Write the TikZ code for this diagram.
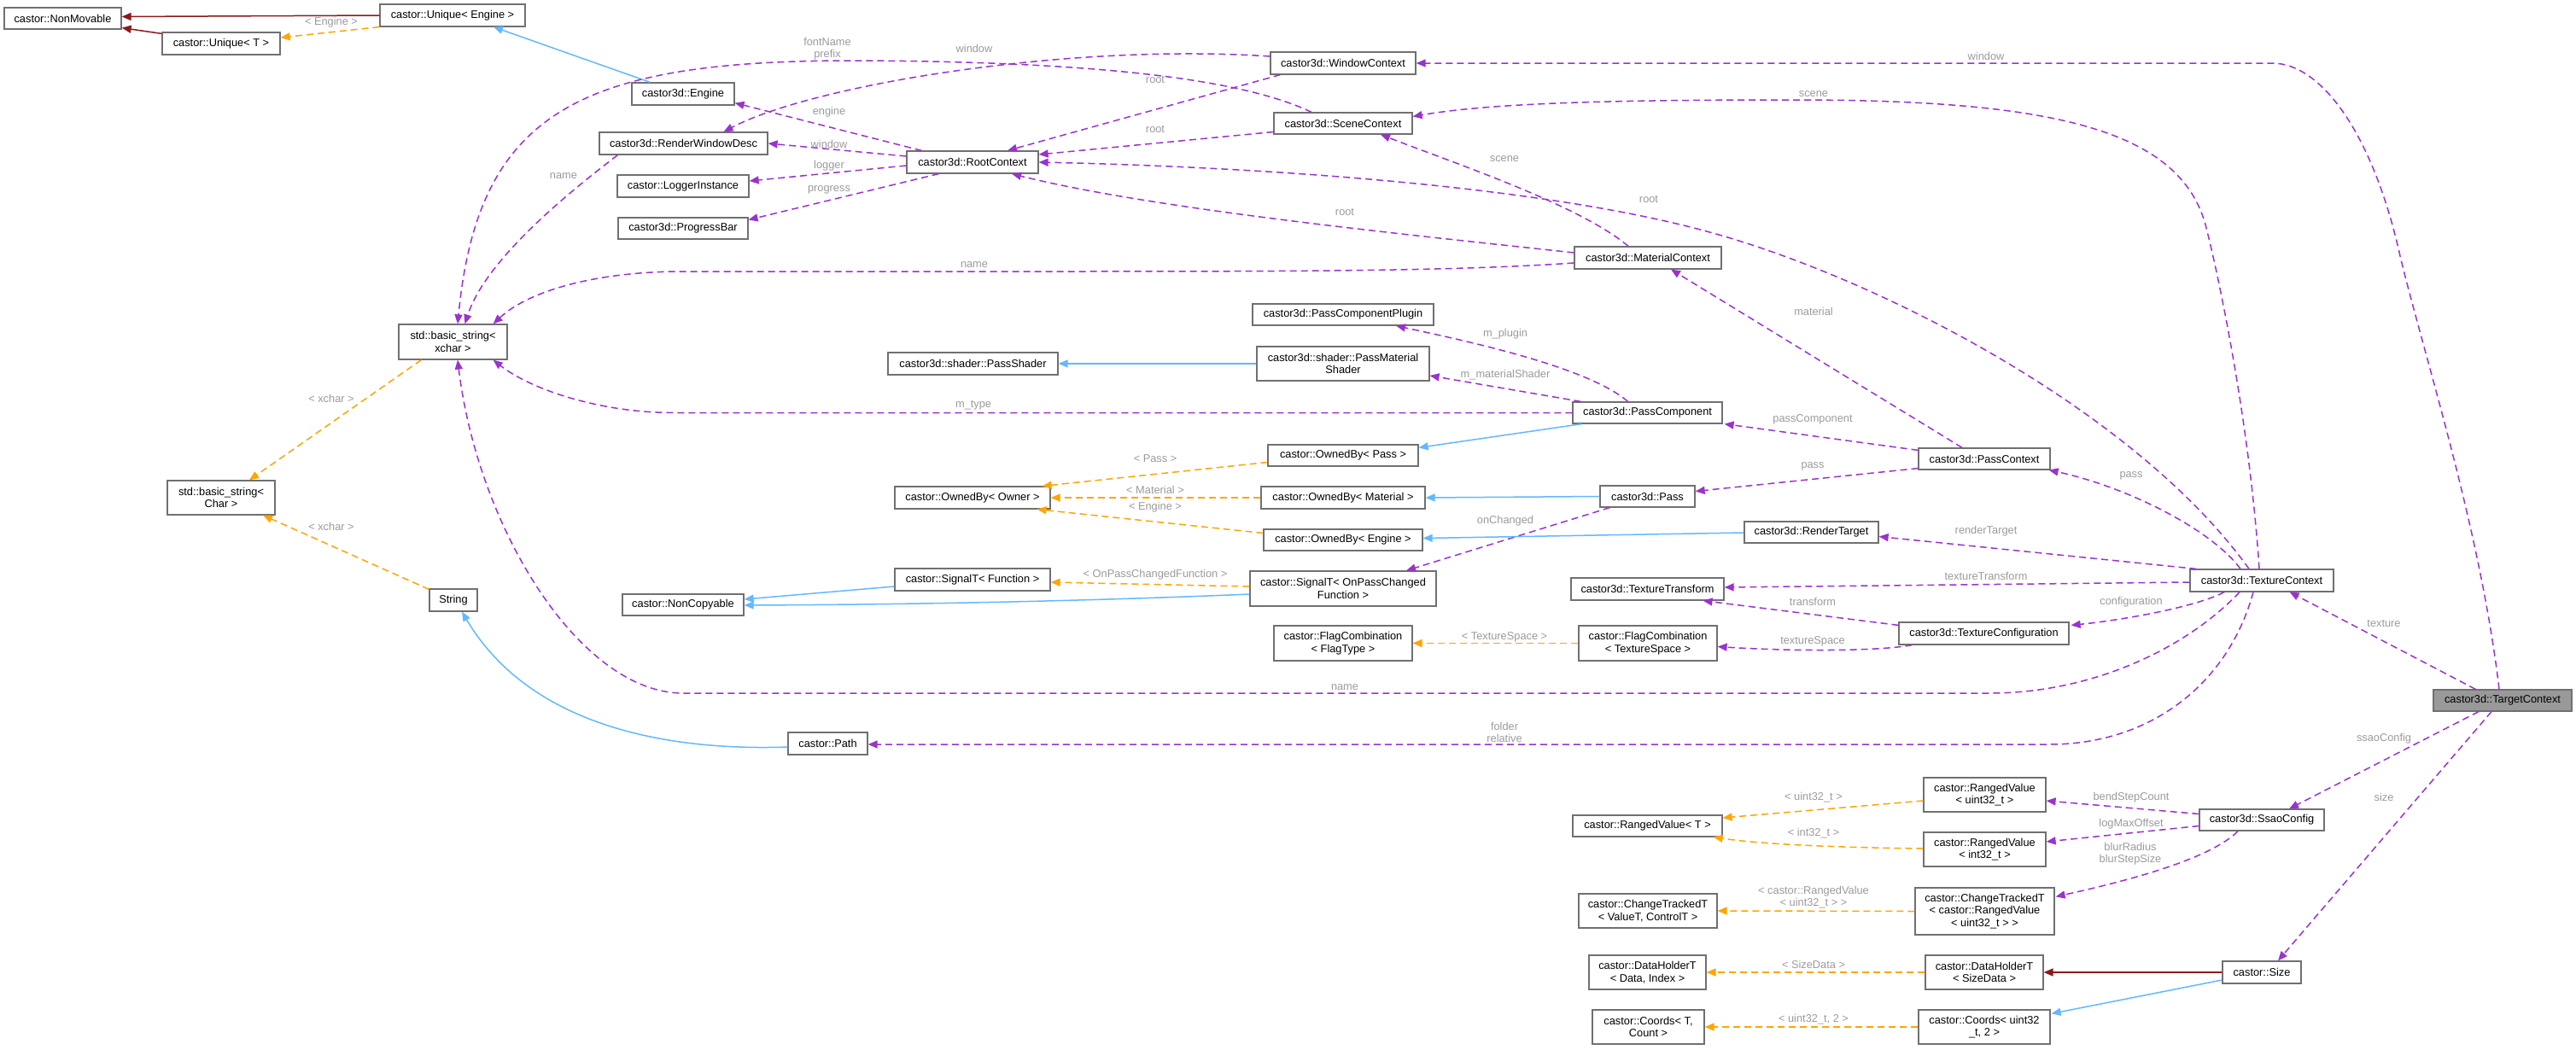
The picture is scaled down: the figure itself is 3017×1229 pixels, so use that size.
\documentclass[tikz,border=0pt]{standalone}
\usepackage{fontspec}
\setmainfont{Liberation Sans}
\usetikzlibrary{arrows.meta,calc}
\definecolor{cpurple}{HTML}{9A32CD}
\definecolor{corange}{HTML}{FFA500}
\definecolor{cblue}{HTML}{63B8FF}
\definecolor{cred}{HTML}{8B1A1A}
\definecolor{clabel}{HTML}{9A9A9A}
\definecolor{cborder}{HTML}{707070}
\definecolor{ctarget}{HTML}{999999}
\newcommand{\nfont}{\fontsize{12.8}{14.5}\selectfont}
\begin{document}
\begin{tikzpicture}[x=1pt,y=-1pt,
  clsbox/.style={draw=cborder, fill=white, line width=1.2pt, inner sep=0pt, align=center, font=\nfont},
  lbl/.style={text=clabel, inner sep=0pt, align=center, font=\nfont},
  arrowhd/.style={-{Triangle[length=11pt,width=9pt]}},
  usee/.style={draw=cpurple, line width=1.5pt, dash pattern=on 8pt off 5pt, arrowhd},
  tmpl/.style={draw=corange, line width=1.5pt, dash pattern=on 8pt off 5pt, arrowhd},
  inh/.style={draw=cblue, line width=1.5pt, arrowhd},
  priv/.style={draw=cred, line width=1.5pt, arrowhd},
]
\useasboundingbox (0,0) rectangle (3017,1229);

% ---- nodes ----
\node[clsbox, minimum width=137pt, minimum height=25pt] (nonmovable) at (73.5,21.5) {castor::NonMovable};
\node[clsbox, minimum width=138pt, minimum height=26pt] (uniqueT) at (259,51) {castor::Unique< T >};
\node[clsbox, minimum width=170pt, minimum height=26pt] (uniqueEngine) at (530,18) {castor::Unique< Engine >};
\node[clsbox, minimum width=120pt, minimum height=26pt] (engine) at (800,110) {castor3d::Engine};
\node[clsbox, minimum width=197pt, minimum height=26pt] (rwd) at (800.5,168) {castor3d::RenderWindowDesc};
\node[clsbox, minimum width=154pt, minimum height=26pt] (logger) at (800,218) {castor::LoggerInstance};
\node[clsbox, minimum width=152pt, minimum height=25pt] (progress) at (800,267.5) {castor3d::ProgressBar};
\node[clsbox, minimum width=127pt, minimum height=41pt] (bsxchar) at (530.5,400.5) {std::basic\_string<\\xchar >};
\node[clsbox, minimum width=126pt, minimum height=40pt] (bsChar) at (259,583) {std::basic\_string<\\Char >};
\node[clsbox, minimum width=56pt, minimum height=26pt] (strnode) at (531,703) {String};
\node[clsbox, minimum width=142pt, minimum height=25pt] (noncopyable) at (800,708.5) {castor::NonCopyable};
\node[clsbox, minimum width=93pt, minimum height=26pt] (castorpath) at (969.5,871) {castor::Path};
\node[clsbox, minimum width=154pt, minimum height=26pt] (rootctx) at (1139,190) {castor3d::RootContext};
\node[clsbox, minimum width=199pt, minimum height=26pt] (passshader) at (1139.5,426) {castor3d::shader::PassShader};
\node[clsbox, minimum width=182pt, minimum height=26pt] (ownedOwner) at (1139,583) {castor::OwnedBy< Owner >};
\node[clsbox, minimum width=182pt, minimum height=26pt] (signalFunc) at (1139,679) {castor::SignalT< Function >};
\node[clsbox, minimum width=170pt, minimum height=26pt] (windowctx) at (1573,74) {castor3d::WindowContext};
\node[clsbox, minimum width=162pt, minimum height=25pt] (scenectx) at (1573,144.5) {castor3d::SceneContext};
\node[clsbox, minimum width=212pt, minimum height=25pt] (pcplugin) at (1573,368.5) {castor3d::PassComponentPlugin};
\node[clsbox, minimum width=202pt, minimum height=40pt] (pmshader) at (1573,426) {castor3d::shader::PassMaterial\\Shader};
\node[clsbox, minimum width=176pt, minimum height=25pt] (ownedPass) at (1573,533.5) {castor::OwnedBy< Pass >};
\node[clsbox, minimum width=192pt, minimum height=26pt] (ownedMaterial) at (1573,583) {castor::OwnedBy< Material >};
\node[clsbox, minimum width=186pt, minimum height=25pt] (ownedEngine) at (1573,632.5) {castor::OwnedBy< Engine >};
\node[clsbox, minimum width=218pt, minimum height=41pt] (signalOPC) at (1573,689.5) {castor::SignalT< OnPassChanged\\Function >};
\node[clsbox, minimum width=162pt, minimum height=41pt] (flagType) at (1573,753.5) {castor::FlagCombination\\< FlagType >};
\node[clsbox, minimum width=172pt, minimum height=26pt] (materialctx) at (1930,302) {castor3d::MaterialContext};
\node[clsbox, minimum width=175pt, minimum height=25pt] (passcomp) at (1929.5,483.5) {castor3d::PassComponent};
\node[clsbox, minimum width=111pt, minimum height=25pt] (passnode) at (1929.5,581.5) {castor3d::Pass};
\node[clsbox, minimum width=179pt, minimum height=26pt] (textransform) at (1929.5,690) {castor3d::TextureTransform};
\node[clsbox, minimum width=162pt, minimum height=41pt] (flagTS) at (1930,753.5) {castor::FlagCombination\\< TextureSpace >};
\node[clsbox, minimum width=175pt, minimum height=25pt] (rangedT) at (1929.5,967.5) {castor::RangedValue< T >};
\node[clsbox, minimum width=162pt, minimum height=40pt] (ctValueT) at (1930,1067) {castor::ChangeTrackedT\\< ValueT, ControlT >};
\node[clsbox, minimum width=137pt, minimum height=40pt] (dhData) at (1929.5,1139) {castor::DataHolderT\\< Data, Index >};
\node[clsbox, minimum width=131pt, minimum height=40pt] (coordsT) at (1930.5,1203) {castor::Coords< T,\\Count >};
\node[clsbox, minimum width=157pt, minimum height=25pt] (rendertarget) at (2121.5,623.5) {castor3d::RenderTarget};
\node[clsbox, minimum width=154pt, minimum height=25pt] (passctx) at (2324,537.5) {castor3d::PassContext};
\node[clsbox, minimum width=199pt, minimum height=26pt] (texconf) at (2323.5,742) {castor3d::TextureConfiguration};
\node[clsbox, minimum width=143pt, minimum height=40pt] (rvU) at (2324.5,931) {castor::RangedValue\\< uint32\_t >};
\node[clsbox, minimum width=143pt, minimum height=40pt] (rvI) at (2324.5,995) {castor::RangedValue\\< int32\_t >};
\node[clsbox, minimum width=163pt, minimum height=55pt] (ctRV) at (2324.5,1067.5) {castor::ChangeTrackedT\\< castor::RangedValue\\< uint32\_t > >};
\node[clsbox, minimum width=138pt, minimum height=40pt] (dhSize) at (2324,1139) {castor::DataHolderT\\< SizeData >};
\node[clsbox, minimum width=154pt, minimum height=40pt] (coordsU) at (2324,1203) {castor::Coords< uint32\\\_t, 2 >};
\node[clsbox, minimum width=168pt, minimum height=26pt] (texturectx) at (2649,680) {castor3d::TextureContext};
\node[clsbox, minimum width=146pt, minimum height=25pt] (ssao) at (2649,960.5) {castor3d::SsaoConfig};
\node[clsbox, minimum width=92pt, minimum height=26pt] (sizenode) at (2649,1139) {castor::Size};
\node[clsbox, fill=ctarget, minimum width=162pt, minimum height=25pt] (targetctx) at (2931,820.5) {castor3d::TargetContext};

% ---- edges ----
\draw[priv] (uniqueEngine.west) -- ($(nonmovable.east)+(0,-2)$);
\draw[priv] ($(uniqueT.north west)+(0,2)$) -- ($(nonmovable.south east)+(0,-2)$);
\draw[tmpl] (uniqueEngine.south west) -- ($(uniqueT.east)+(0,-7)$);
\draw[inh] ($(engine.north west)+(22,0)$) -- ($(uniqueEngine.south)+(48,0)$);
\draw[usee] ($(rootctx.north west)+(18,0)$) -- ($(engine.south east)+(0,-3)$);
\draw[usee] ($(rootctx.west)+(0,-7)$) -- (rwd.east);
\draw[usee] ($(rootctx.west)+(0,4)$) -- ($(logger.east)+(0,-6)$);
\draw[usee] ($(rootctx.south west)+(38,0)$) -- ($(progress.east)+(0,-10)$);
\draw[usee] ($(windowctx.west)+(0,-8)$) .. controls (1250,50) and (950,100) .. ($(rwd.north)+(47,0)$);
\draw[usee] ($(windowctx.south west)+(12,0)$) -- ($(rootctx.north)+(41,0)$);
\draw[usee] ($(scenectx.west)+(0,10)$) -- ($(rootctx.east)+(0,-9)$);
\draw[usee] ($(scenectx.north)+(-37,0)$) .. controls (1460,95) and (1300,72) .. (1000,71) .. controls (680,71) and (560,130) .. ($(bsxchar.north)+(5.5,0)$);
\draw[usee] ($(rwd.south west)+(22,0)$) .. controls (680,215) and (570,300) .. ($(bsxchar.north)+(14,0)$);
\draw[usee] ($(materialctx.west)+(0,-6)$) .. controls (1650,275) and (1350,245) .. ($(rootctx.south)+(46,0)$);
\draw[usee] ($(materialctx.north)+(-23,0)$) .. controls (1850,240) and (1700,190) .. ($(scenectx.south)+(44,0)$);
\draw[usee] ($(materialctx.west)+(0,6)$) .. controls (1700,318) and (1500,318) .. (1200,318) -- (800,318) .. controls (700,318) and (620,340) .. ($(bsxchar.north east)+(-17,0)$);
\draw[usee] ($(texturectx.north)+(-15,0)$) .. controls (2500,480) and (2200,327) .. (2006,273) .. controls (1800,215) and (1450,195) .. (rootctx.east);
\draw[usee] ($(passctx.north)+(-26,0)$) -- ($(materialctx.south)+(27,0)$);
\draw[usee] ($(passcomp.north)+(-23,0)$) .. controls (1860,430) and (1720,400) .. ($(pcplugin.south)+(62,0)$);
\draw[usee] ($(passcomp.north west)+(10,0)$) -- ($(pmshader.east)+(0,14)$);
\draw[inh] (pmshader.west) -- (passshader.east);
\draw[usee] (passcomp.west) -- (790,483.5) .. controls (700,483.5) and (620,455) .. ($(bsxchar.south east)+(-17,0)$);
\draw[inh] ($(passcomp.south west)+(11,0)$) -- ($(ownedPass.north east)+(0,4)$);
\draw[tmpl] ($(ownedPass.west)+(0,8)$) -- ($(ownedOwner.north east)+(-10,0)$);
\draw[tmpl] (ownedMaterial.west) -- (ownedOwner.east);
\draw[tmpl] ($(ownedEngine.west)+(0,-8)$) -- ($(ownedOwner.south east)+(-16,0)$);
\draw[inh] (passnode.west) -- (ownedMaterial.east);
\draw[usee] ($(passctx.north west)+(0,3)$) -- ($(passcomp.south east)+(2,0)$);
\draw[usee] ($(passctx.south west)+(0,-2)$) -- ($(passnode.east)+(0,-6)$);
\draw[usee] ($(passnode.south west)+(12,0)$) -- ($(signalOPC.north)+(74,0)$);
\draw[inh] ($(rendertarget.west)+(0,0.5)$) -- ($(ownedEngine.east)+(0,-2)$);
\draw[tmpl] ($(signalOPC.west)+(0,-2.5)$) -- ($(signalFunc.east)+(0,3)$);
\draw[inh] ($(signalFunc.west)+(0,8)$) -- ($(noncopyable.east)+(0,-6.5)$);
\draw[inh] ($(signalOPC.west)+(0,6.5)$) .. controls (1300,703) and (1100,708) .. ($(noncopyable.east)+(0,0.5)$);
\draw[tmpl] (flagTS.west) -- (flagType.east);
\draw[usee] ($(texturectx.south)+(-26,0)$) .. controls (2560,760) and (2450,812) .. (2330,812) -- (800,812) .. controls (680,812) and (560,620) .. ($(bsxchar.south)+(5.5,0)$);
\draw[usee] ($(texturectx.south)+(-10,0)$) .. controls (2610,800) and (2520,872) .. (2400,872) -- ($(castorpath.east)+(0,1)$);
\draw[usee] ($(texturectx.north)+(-25,0)$) .. controls (2590,620) and (2490,570) .. ($(passctx.south east)+(-2,0)$);
\draw[usee] ($(texturectx.north west)+(8,0)$) -- ($(rendertarget.east)+(0,5)$);
\draw[usee] ($(texturectx.west)+(0,2)$) -- ($(textransform.east)+(0,-2)$);
\draw[usee] ($(texconf.north west)+(0,4)$) -- ($(textransform.south)+(65,0)$);
\draw[usee] ($(texturectx.south)+(-44,0)$) .. controls (2570,712) and (2480,727) .. ($(texconf.north east)+(2,4)$);
\draw[usee] ($(texconf.south west)+(16,0)$) .. controls (2200,763) and (2100,763) .. ($(flagTS.east)+(0,4)$);
\draw[usee] ($(targetctx.north)+(-4,0)$) .. controls (2905,620) and (2840,420) .. (2811,300) .. controls (2780,160) and (2720,74) .. (2661,74) -- (windowctx.east);
\draw[usee] ($(texturectx.north)+(-3,0)$) .. controls (2635,500) and (2600,330) .. (2584,267) .. controls (2555,150) and (2400,117) .. (2100,117) .. controls (1900,117) and (1750,120) .. ($(scenectx.east)+(0,-8)$);
\draw[usee] ($(targetctx.north west)+(50,0)$) -- ($(texturectx.south east)+(-52,0)$);
\draw[usee] ($(targetctx.south)+(-28,0)$) -- ($(ssao.north)+(32,0)$);
\draw[usee] ($(targetctx.south)+(-13,0)$) -- ($(sizenode.north)+(19,0)$);
\draw[usee] ($(ssao.west)+(0,-7)$) -- ($(rvU.east)+(0,7)$);
\draw[usee] ($(ssao.west)+(0,7)$) -- ($(rvI.east)+(0,-9)$);
\draw[usee] ($(ssao.south)+(-28,0)$) .. controls (2590,1005) and (2500,1030) .. ($(ctRV.north east)+(1,11)$);
\draw[tmpl] ($(rvU.west)+(0,7)$) -- ($(rangedT.east)+(0,-9.5)$);
\draw[tmpl] ($(rvI.west)+(0,-1)$) .. controls (2170,993) and (2070,990) .. ($(rangedT.south east)+(-11,0)$);
\draw[tmpl] (ctRV.west) -- (ctValueT.east);
\draw[priv] (sizenode.west) -- (dhSize.east);
\draw[tmpl] (dhSize.west) -- (dhData.east);
\draw[inh] ($(sizenode.west)+(0,9)$) -- ($(coordsU.north east)+(1,5)$);
\draw[tmpl] (coordsU.west) -- (coordsT.east);
\draw[tmpl] ($(bsxchar.south west)+(27,0)$) -- ($(bsChar.north)+(33,0)$);
\draw[tmpl] ($(strnode.north west)+(0,1)$) -- ($(bsChar.south)+(49,0)$);
\draw[inh] ($(castorpath.west)+(0,4)$) .. controls (780,880) and (620,850) .. ($(strnode.south)+(10,0)$);

% ---- labels ----
\node[lbl] (l1) at (388,26) {< Engine >};
\node[lbl] (l2) at (969,57) {fontName\\prefix};
\node[lbl] (l3) at (971,131) {engine};
\node[lbl] (l4) at (971,169) {window};
\node[lbl] (l5) at (971,194) {logger};
\node[lbl] (l6) at (971,222) {progress};
\node[lbl] (l7) at (660,206) {name};
\node[lbl] (l8) at (1141,57) {window};
\node[lbl] (l9) at (1353,93) {root};
\node[lbl] (l10) at (1353,151) {root};
\node[lbl] (l11) at (1762,186) {scene};
\node[lbl] (l12) at (1931,233) {root};
\node[lbl] (l13) at (1575,248) {root};
\node[lbl] (l14) at (1141,310) {name};
\node[lbl] (l15) at (1763,391) {m\_plugin};
\node[lbl] (l16) at (1763,439) {m\_materialShader};
\node[lbl] (l17) at (1140,475) {m\_type};
\node[lbl] (l18) at (1353,537) {< Pass >};
\node[lbl] (l19) at (1353,574) {< Material >};
\node[lbl] (l20) at (1353,594) {< Engine >};
\node[lbl] (l21) at (1763,610) {onChanged};
\node[lbl] (l22) at (1353,673) {< OnPassChangedFunction >};
\node[lbl] (l23) at (1762,746) {< TextureSpace >};
\node[lbl] (l24) at (1575,805) {name};
\node[lbl] (l25) at (1762,858) {folder\\relative};
\node[lbl] (l26) at (2326,66) {window};
\node[lbl] (l27) at (2124,110) {scene};
\node[lbl] (l28) at (2124,365) {material};
\node[lbl] (l29) at (2123,491) {passComponent};
\node[lbl] (l30) at (2123,546) {pass};
\node[lbl] (l31) at (2496,557) {pass};
\node[lbl] (l32) at (2326,622) {renderTarget};
\node[lbl] (l33) at (2326,675) {textureTransform};
\node[lbl] (l34) at (2123,705) {transform};
\node[lbl] (l35) at (2496,705) {configuration};
\node[lbl] (l36) at (2123,751) {textureSpace};
\node[lbl] (l37) at (2792,730) {texture};
\node[lbl] (l38) at (2792,865) {ssaoConfig};
\node[lbl] (l39) at (2792,934) {size};
\node[lbl] (l40) at (2496,934) {bendStepCount};
\node[lbl] (l41) at (2496,965) {logMaxOffset};
\node[lbl] (l42) at (2495,1000) {blurRadius\\blurStepSize};
\node[lbl] (l43) at (2124,934) {< uint32\_t >};
\node[lbl] (l44) at (2124,976) {< int32\_t >};
\node[lbl] (l45) at (2124,1051) {< castor::RangedValue\\< uint32\_t > >};
\node[lbl] (l46) at (2124,1130) {< SizeData >};
\node[lbl] (l47) at (2124,1194) {< uint32\_t, 2 >};
\node[lbl] (l48) at (388,467) {< xchar >};
\node[lbl] (l49) at (388,617) {< xchar >};
\end{tikzpicture}
\end{document}
